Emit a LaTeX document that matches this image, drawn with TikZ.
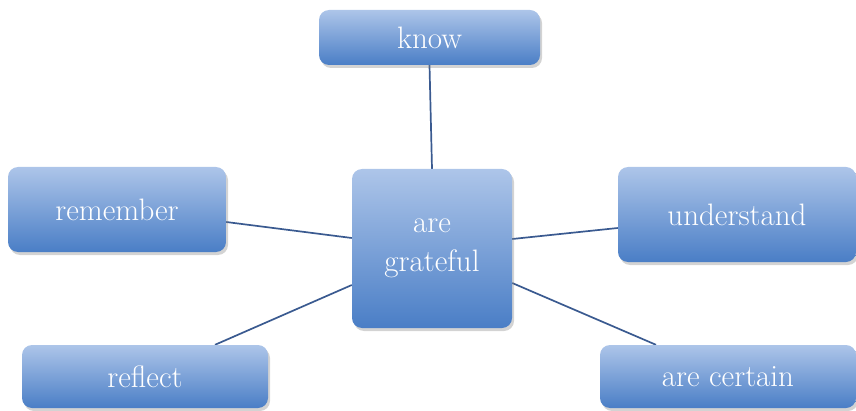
\documentclass[tikz,border=0pt]{standalone}
\usetikzlibrary{shadows,calc,backgrounds}
\definecolor{boxtop}{HTML}{ADC5E9}
\definecolor{boxbot}{HTML}{4A7EC6}
\definecolor{linkc}{HTML}{3A5A90}
\begin{document}
\begin{tikzpicture}[x=1pt,y=1pt,
  box/.style={rectangle, rounded corners=10pt, top color=boxtop, bottom color=boxbot,
    draw=none, text=white, font=\fontsize{31}{39}\selectfont, align=center,
    inner sep=0pt, drop shadow={opacity=0.35, shadow xshift=2pt, shadow yshift=-3pt}},
  link/.style={draw=linkc, line width=1.7pt}]
\useasboundingbox (0,0) rectangle (856,410);
\node[box, minimum width=221pt, minimum height=55pt] (know) at (429.5,372.5) {know};
\node[box, minimum width=218pt, minimum height=85pt] (remember) at (117,200.5) {remember};
\node[box, minimum width=160pt, minimum height=159pt] (grateful) at (432,161.5) {are\\grateful};
\node[box, minimum width=238pt, minimum height=95pt] (understand) at (737,195.5) {understand};
\node[box, minimum width=246pt, minimum height=63pt] (reflect) at (145,33.5) {reflect};
\node[box, minimum width=256pt, minimum height=63pt] (certain) at (728,33.5) {are certain};
\begin{pgfonlayer}{background}
\draw[link] (know.south) -- (grateful.north);
\draw[link] ($(remember.east)+(0,-12.5)$) -- ($(grateful.west)+(0,10.5)$);
\draw[link] ($(understand.west)+(0,-13.5)$) -- ($(grateful.east)+(0,9.5)$);
\draw[link] ($(reflect.north)+(70,0)$) -- ($(grateful.west)+(0,-36.5)$);
\draw[link] ($(certain.north)+(-72,0)$) -- ($(grateful.east)+(0,-34.5)$);
\end{pgfonlayer}
\end{tikzpicture}
\end{document}
